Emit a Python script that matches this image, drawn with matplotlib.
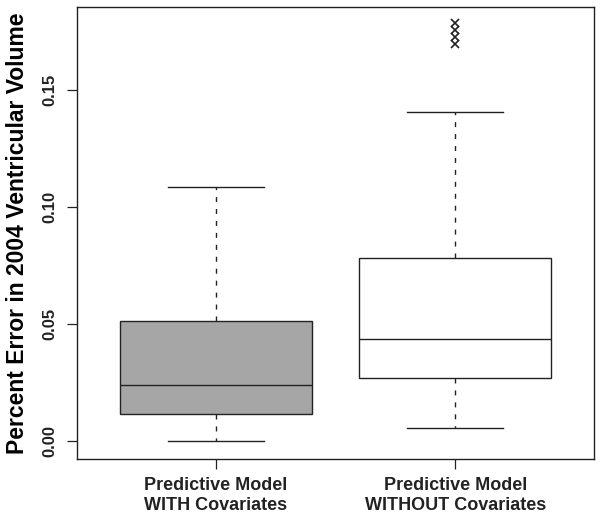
import matplotlib
matplotlib.use("Agg")
import matplotlib.pyplot as plt

plt.rcParams['font.family'] = ['Liberation Sans', 'DejaVu Sans']

# box statistics
labels = ["Predictive Model\nWITH Covariates", "Predictive Model\nWITHOUT Covariates"]
whislo = [0.000, 0.0056]
q1 = [0.0115, 0.0269]
med = [0.024, 0.0436]
q3 = [0.0513, 0.0782]
whishi = [0.1085, 0.1406]
fliers = [[], [0.1697, 0.1726, 0.1756, 0.1787]]
box_colors = ["#a6a6a6", "white"]

stats = []
for i in range(len(labels)):
    stats.append(dict(whislo=whislo[i], q1=q1[i], med=med[i], q3=q3[i],
                      whishi=whishi[i], fliers=fliers[i]))

fig = plt.figure(figsize=(6.02, 5.19), dpi=100)
ax = fig.add_axes([77/602, 60/519, 517/602, 452/519])

# R-style boxplot: dashed whiskers, short caps
bp = ax.bxp(stats, positions=[1, 2], widths=0.8, capwidths=0.4,
            patch_artist=True, showfliers=True,
            boxprops=dict(edgecolor="#222222", linewidth=1.0),
            medianprops=dict(color="#222222", linewidth=1.0),
            whiskerprops=dict(color="#222222", linewidth=1.0, linestyle=(0, (3.6, 5))),
            capprops=dict(color="#222222", linewidth=1.0),
            flierprops=dict(marker="x", markeredgecolor="#222222", markersize=6,
                            markeredgewidth=1.2, linestyle="none"))
for patch, c in zip(bp["boxes"], box_colors):
    patch.set_facecolor(c)

ax.set_xlim(0.42, 2.58)
ax.set_ylim(-0.0077, 0.1855)
ax.set_yticks([0.00, 0.05, 0.10, 0.15])
ax.set_yticklabels(["0.00", "0.05", "0.10", "0.15"], rotation=90, va="center",
                   fontsize=12, fontweight="bold")
ax.set_xticks([1, 2])
ax.set_xticklabels(labels, fontsize=13, fontweight="bold", linespacing=1.25)
ax.tick_params(axis="both", direction="out", length=7, width=0.9, colors="#222222")
ax.tick_params(axis="y", pad=7)
ax.tick_params(axis="x", pad=6)
ax.set_ylabel("Percent Error in 2004 Ventricular Volume", fontsize=16.5,
              fontweight="bold", labelpad=10)

for s in ax.spines.values():
    s.set_linewidth(1.0)
    s.set_color("#222222")

fig.savefig("out.png", dpi=100)
